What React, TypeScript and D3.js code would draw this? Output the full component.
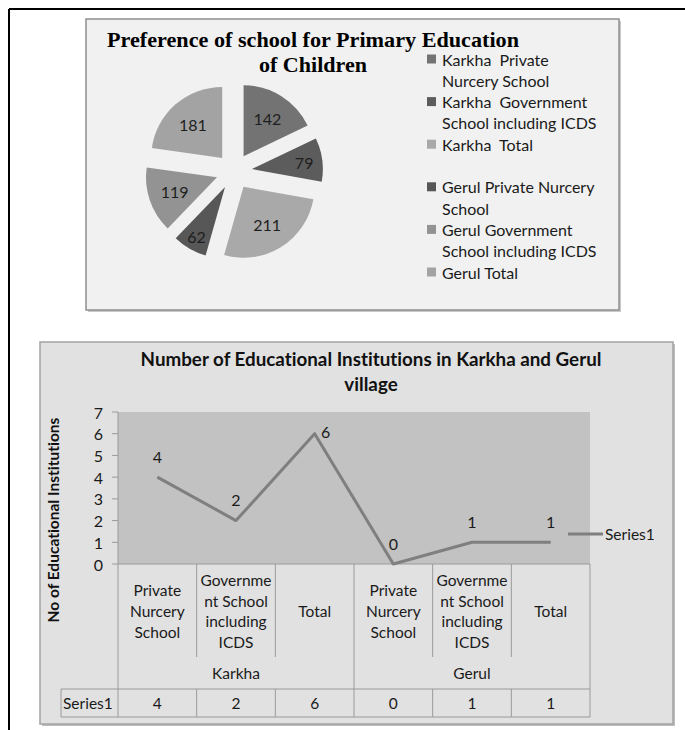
import React from "react";
import * as d3 from "d3";

// ---------- Pie chart data ----------
const pieLegend = [
  ["Karkha  Private", "Nurcery School"],
  ["Karkha  Government", "School including ICDS"],
  ["Karkha  Total", ""],
  ["Gerul Private Nurcery", "School"],
  ["Gerul Government", "School including ICDS"],
  ["Gerul Total", ""],
];
const pieValues = [142, 79, 211, 62, 119, 181];
const pieColors = ["#737373", "#5c5c5c", "#a9a9a9", "#575757", "#939393", "#a3a3a3"];
const pieTitle = ["Preference of school for Primary Education", "of Children"];

// ---------- Line chart data ----------
const categoryLines = [
  ["Private", "Nurcery", "School"],
  ["Governme", "nt School", "including", "ICDS"],
  ["Total"],
  ["Private", "Nurcery", "School"],
  ["Governme", "nt School", "including", "ICDS"],
  ["Total"],
];
const groups = ["Karkha", "Gerul"];
const seriesName = "Series1";
const seriesValues = [4, 2, 6, 0, 1, 1];
const labelPositions = ["above", "above", "right", "above", "above", "above"];
const yTicks = [0, 1, 2, 3, 4, 5, 6, 7];
const lineTitle = ["Number of Educational Institutions in Karkha and Gerul", "village"];
const yTitle = "No of Educational Institutions";

const SANS = "Lato, 'Open Sans', sans-serif";
const FS = 15.5;

function PieChart() {
  const cx = 234, cy = 171.5, r = 71, explode = 18;
  const pie = d3.pie<number>().sort(null).value((d) => d);
  const arcs = pie(pieValues);
  const arc = d3.arc<d3.PieArcDatum<number>>().innerRadius(0).outerRadius(r);
  const lineH = 21.3;
  return (
    <g>
      <rect x={88} y={21} width={533} height={291} fill="#c8c8c8" />
      <rect x={86} y={19} width={533} height={291} fill="#f1f1f1" stroke="#8f8f8f" strokeWidth={1.5} />
      {pieTitle.map((t, i) => (
        <text
          key={i}
          x={313}
          y={47 + i * 25}
          textAnchor="middle"
          fontFamily="'Liberation Serif', 'Times New Roman', serif"
          fontWeight="bold"
          fontSize={21}
          textLength={i === 0 ? 412 : 108}
          lengthAdjust="spacingAndGlyphs"
          fill="#000"
        >
          {t}
        </text>
      ))}
      {arcs.map((a, i) => {
        const mid = (a.startAngle + a.endAngle) / 2;
        const ox = Math.sin(mid) * explode;
        const oy = -Math.cos(mid) * explode;
        const span = ((a.endAngle - a.startAngle) * 180) / Math.PI;
        const lr = r * (0.63 + 0.4 * Math.max(0, 1 - span / 50));
        const lx = Math.sin(mid) * lr;
        const ly = -Math.cos(mid) * lr;
        return (
          <g key={i} transform={`translate(${cx + ox},${cy + oy})`}>
            <path d={arc(a) || ""} fill={pieColors[i]} />
            <text
              x={lx}
              y={ly}
              textAnchor="middle"
              dominantBaseline="central"
              fontFamily={SANS}
              fontSize={16}
              fill="#1e1e1e"
            >
              {pieValues[i]}
            </text>
          </g>
        );
      })}
      {pieLegend.map((lines, i) => {
        const y0 = 59 + i * lineH * 2;
        return (
          <g key={i}>
            <rect x={427} y={y0 - 4.5} width={9} height={9} fill={pieColors[i]} />
            {lines.map((l, j) => (
              <text
                key={j}
                x={442}
                y={y0 + j * lineH}
                dominantBaseline="central"
                fontFamily={SANS}
                fontSize={16}
                fill="#1a1a1a"
                style={{ whiteSpace: "pre", fontVariantLigatures: "none" }}
              >
                {l}
              </text>
            ))}
          </g>
        );
      })}
    </g>
  );
}

function LineChart() {
  const left = 118, right = 590, top = 412, bottom = 564;
  const x = d3.scaleBand<number>().domain(seriesValues.map((_, i) => i)).range([left, right]);
  const y = d3.scaleLinear().domain([0, 7]).range([bottom, top]);
  const cxOf = (i: number) => (x(i) as number) + x.bandwidth() / 2;
  const line = d3
    .line<number>()
    .x((_, i) => cxOf(i))
    .y((d) => y(d));
  const subBottom = 657;
  const groupRowY = 673;
  const rowTop = 689;
  const rowBottom = 717;
  const tableLeft = 61;
  const gridColor = "#9a9a9a";
  const lineH = 20.8;
  const labelCenter = (subBottom + bottom) / 2 + 0.5;
  const groupSize = seriesValues.length / groups.length;
  const noLig = { fontVariantLigatures: "none" } as React.CSSProperties;
  return (
    <g>
      <rect x={42} y={344} width={633} height={382} fill="#bdbdbd" />
      <rect x={40} y={342} width={633} height={382} fill="#e1e1e1" stroke="#a3a3a3" strokeWidth={1.5} />
      {lineTitle.map((t, i) => (
        <text
          key={i}
          x={371}
          y={358 + i * 25}
          textAnchor="middle"
          dominantBaseline="central"
          fontFamily={SANS}
          fontWeight="bold"
          fontSize={18.8}
          fill="#111"
          style={noLig}
        >
          {t}
        </text>
      ))}
      <text
        transform={`translate(53,${(top + 628) / 2}) rotate(-90)`}
        textAnchor="middle"
        dominantBaseline="central"
        fontFamily={SANS}
        fontWeight="bold"
        fontSize={15.5}
        fill="#111"
        style={noLig}
      >
        {yTitle}
      </text>
      <rect x={left} y={top} width={right - left} height={bottom - top} fill="#c2c2c2" />
      {/* y axis */}
      <line x1={left} x2={left} y1={top} y2={rowBottom} stroke={gridColor} strokeWidth={1} />
      {yTicks.map((t) => (
        <g key={t}>
          <line x1={left - 6} x2={left} y1={y(t)} y2={y(t)} stroke={gridColor} />
          <text
            x={103}
            y={y(t)}
            textAnchor="end"
            dominantBaseline="central"
            fontFamily={SANS}
            fontSize={16}
            fill="#1a1a1a"
          >
            {t}
          </text>
        </g>
      ))}
      {/* table lines */}
      <line x1={left} x2={right} y1={bottom} y2={bottom} stroke={gridColor} />
      <line x1={right} x2={right} y1={bottom} y2={rowBottom} stroke={gridColor} />
      <line x1={tableLeft} x2={right} y1={rowTop} y2={rowTop} stroke={gridColor} />
      <line x1={tableLeft} x2={right} y1={rowBottom} y2={rowBottom} stroke={gridColor} />
      <line x1={tableLeft} x2={tableLeft} y1={rowTop} y2={rowBottom} stroke={gridColor} />
      {seriesValues.map((_, i) => {
        if (i === 0) return null;
        const bx = x(i) as number;
        const isGroupEdge = i % groupSize === 0;
        return (
          <g key={i}>
            <line x1={bx} x2={bx} y1={bottom} y2={isGroupEdge ? rowBottom : subBottom} stroke={gridColor} />
            {!isGroupEdge && <line x1={bx} x2={bx} y1={rowTop} y2={rowBottom} stroke={gridColor} />}
          </g>
        );
      })}
      {categoryLines.map((lines, i) => (
        <g key={i}>
          {lines.map((l, j) => (
            <text
              key={j}
              x={cxOf(i)}
              y={labelCenter + (j - (lines.length - 1) / 2) * lineH}
              textAnchor="middle"
              dominantBaseline="central"
              fontFamily={SANS}
              fontSize={FS}
              fill="#1a1a1a"
            >
              {l}
            </text>
          ))}
        </g>
      ))}
      {groups.map((g, gi) => {
        const x0 = x(gi * groupSize) as number;
        const x1 = (x(gi * groupSize + groupSize - 1) as number) + x.bandwidth();
        return (
          <text
            key={g}
            x={(x0 + x1) / 2}
            y={groupRowY}
            textAnchor="middle"
            dominantBaseline="central"
            fontFamily={SANS}
            fontSize={FS}
            fill="#1a1a1a"
          >
            {g}
          </text>
        );
      })}
      <text
        x={tableLeft + 2}
        y={(rowTop + rowBottom) / 2}
        dominantBaseline="central"
        fontFamily={SANS}
        fontSize={FS}
        fill="#1a1a1a"
      >
        {seriesName}
      </text>
      {seriesValues.map((v, i) => (
        <text
          key={i}
          x={cxOf(i)}
          y={(rowTop + rowBottom) / 2}
          textAnchor="middle"
          dominantBaseline="central"
          fontFamily={SANS}
          fontSize={FS}
          fill="#1a1a1a"
        >
          {v}
        </text>
      ))}
      {/* series line */}
      <path d={line(seriesValues) || ""} fill="none" stroke="#7f7f7f" strokeWidth={3} strokeLinejoin="round" />
      {seriesValues.map((v, i) => {
        const right = labelPositions[i] === "right";
        return (
          <text
            key={i}
            x={cxOf(i) + (right ? 11 : 0)}
            y={y(v) + (right ? -2 : -21)}
            textAnchor="middle"
            dominantBaseline="central"
            fontFamily={SANS}
            fontSize={16}
            fill="#1a1a1a"
          >
            {v}
          </text>
        );
      })}
      {/* legend */}
      <line x1={568} x2={603} y1={534} y2={534} stroke="#7f7f7f" strokeWidth={3} />
      <text x={605} y={534} dominantBaseline="central" fontFamily={SANS} fontSize={FS} fill="#1a1a1a">
        {seriesName}
      </text>
    </g>
  );
}

export default function App() {
  return (
    <svg
      width={685}
      height={730}
      style={{ position: "absolute", left: 0, top: 0, background: "#fff" }}
    >
      <rect x={0} y={0} width={685} height={730} fill="#fff" />
      <line x1={9} x2={685} y1={9} y2={9} stroke="#000" strokeWidth={2} />
      <line x1={9} x2={9} y1={9} y2={730} stroke="#000" strokeWidth={2} />
      <PieChart />
      <LineChart />
    </svg>
  );
}
